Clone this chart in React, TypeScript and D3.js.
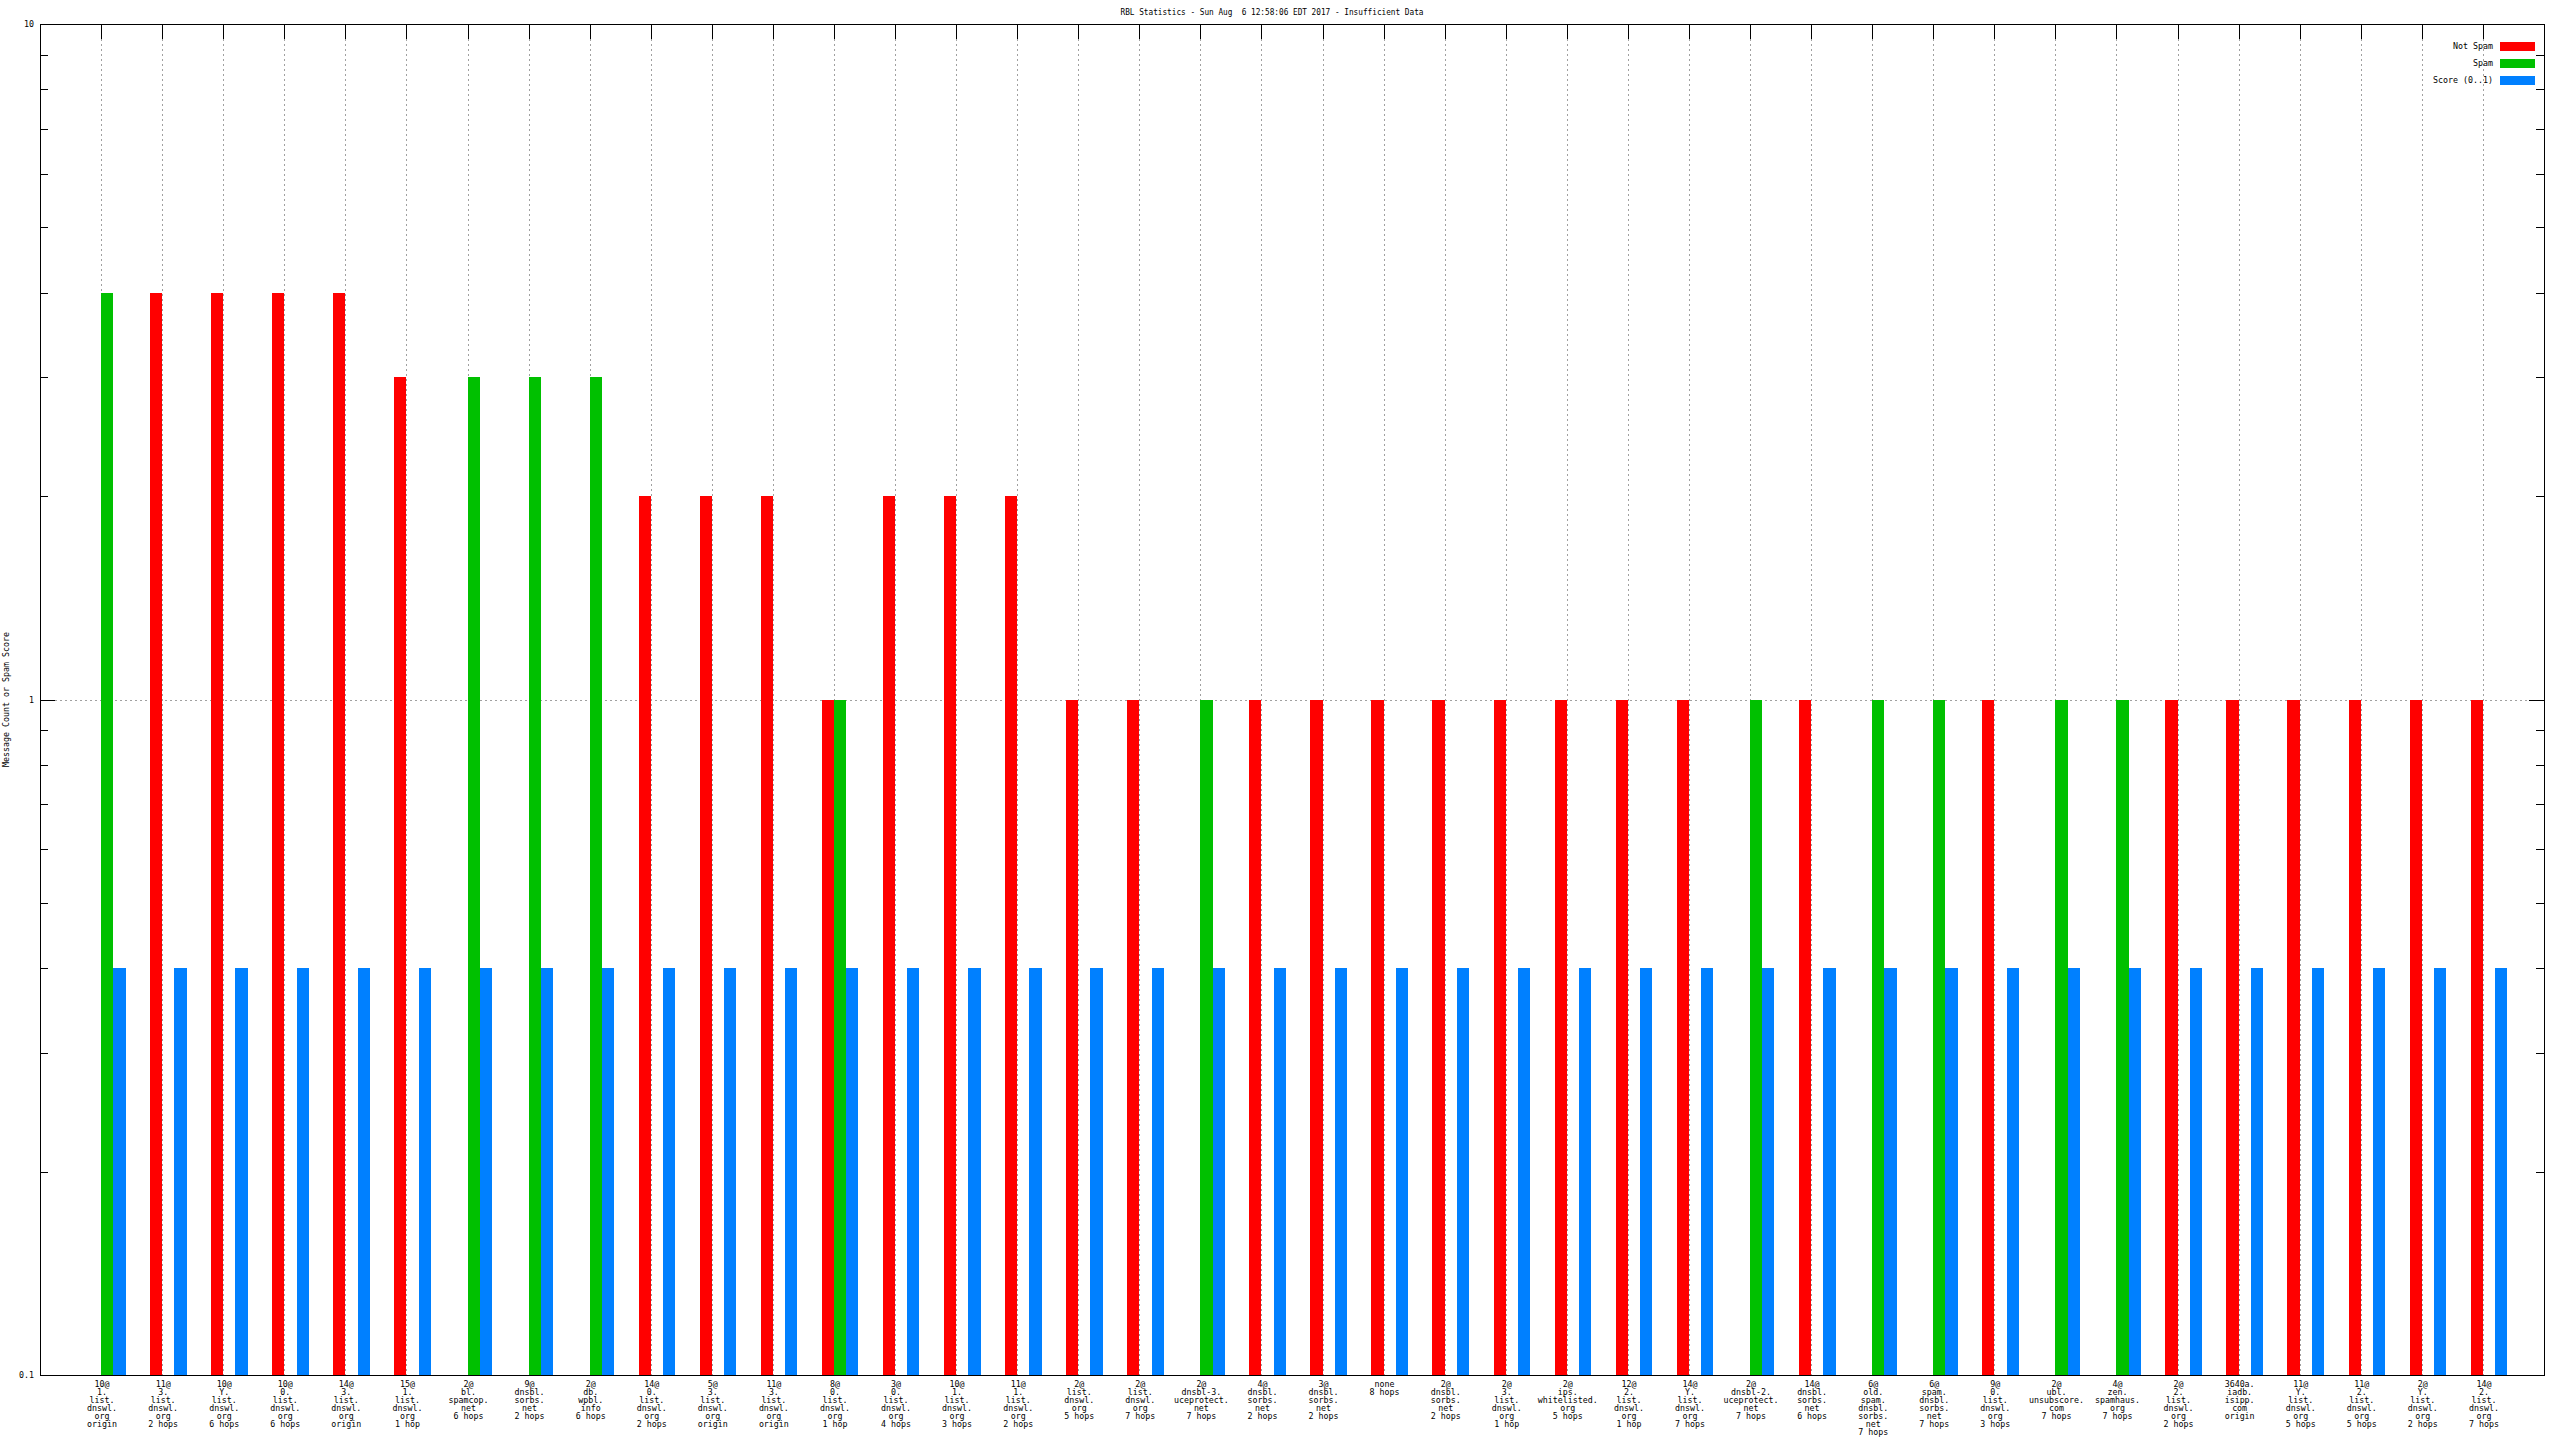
import React from "react";
import * as d3 from "d3";

const TITLE = "RBL Statistics - Sun Aug  6 12:58:06 EDT 2017 - Insufficient Data";
const Y_TITLE = "Message Count or Spam Score";

const categories: string[] = [
  "10@\n1.\nlist.\ndnswl.\norg\norigin",
  "11@\n3.\nlist.\ndnswl.\norg\n2 hops",
  "10@\nY.\nlist.\ndnswl.\norg\n6 hops",
  "10@\n0.\nlist.\ndnswl.\norg\n6 hops",
  "14@\n3.\nlist.\ndnswl.\norg\norigin",
  "15@\n1.\nlist.\ndnswl.\norg\n1 hop",
  "2@\nbl.\nspamcop.\nnet\n6 hops",
  "9@\ndnsbl.\nsorbs.\nnet\n2 hops",
  "2@\ndb.\nwpbl.\ninfo\n6 hops",
  "14@\n0.\nlist.\ndnswl.\norg\n2 hops",
  "5@\n3.\nlist.\ndnswl.\norg\norigin",
  "11@\n3.\nlist.\ndnswl.\norg\norigin",
  "8@\n0.\nlist.\ndnswl.\norg\n1 hop",
  "3@\n0.\nlist.\ndnswl.\norg\n4 hops",
  "10@\n1.\nlist.\ndnswl.\norg\n3 hops",
  "11@\n1.\nlist.\ndnswl.\norg\n2 hops",
  "2@\nlist.\ndnswl.\norg\n5 hops",
  "2@\nlist.\ndnswl.\norg\n7 hops",
  "2@\ndnsbl-3.\nuceprotect.\nnet\n7 hops",
  "4@\ndnsbl.\nsorbs.\nnet\n2 hops",
  "3@\ndnsbl.\nsorbs.\nnet\n2 hops",
  "none\n8 hops",
  "2@\ndnsbl.\nsorbs.\nnet\n2 hops",
  "2@\n3.\nlist.\ndnswl.\norg\n1 hop",
  "2@\nips.\nwhitelisted.\norg\n5 hops",
  "12@\n2.\nlist.\ndnswl.\norg\n1 hop",
  "14@\nY.\nlist.\ndnswl.\norg\n7 hops",
  "2@\ndnsbl-2.\nuceprotect.\nnet\n7 hops",
  "14@\ndnsbl.\nsorbs.\nnet\n6 hops",
  "6@\nold.\nspam.\ndnsbl.\nsorbs.\nnet\n7 hops",
  "6@\nspam.\ndnsbl.\nsorbs.\nnet\n7 hops",
  "9@\n0.\nlist.\ndnswl.\norg\n3 hops",
  "2@\nubl.\nunsubscore.\ncom\n7 hops",
  "4@\nzen.\nspamhaus.\norg\n7 hops",
  "2@\n2.\nlist.\ndnswl.\norg\n2 hops",
  "3640a.\niadb.\nisipp.\ncom\norigin",
  "11@\nY.\nlist.\ndnswl.\norg\n5 hops",
  "11@\n2.\nlist.\ndnswl.\norg\n5 hops",
  "2@\nY.\nlist.\ndnswl.\norg\n2 hops",
  "14@\n2.\nlist.\ndnswl.\norg\n7 hops",
];

const notSpam: number[] = [
  0, 4, 4, 4, 4, 3, 0, 0, 0, 2, 2, 2, 1, 2, 2, 2, 1, 1, 0, 1,
  1, 1, 1, 1, 1, 1, 1, 0, 1, 0, 0, 1, 0, 0, 1, 1, 1, 1, 1, 1,
];
const spam: number[] = [
  4, 0, 0, 0, 0, 0, 3, 3, 3, 0, 0, 0, 1, 0, 0, 0, 0, 0, 1, 0,
  0, 0, 0, 0, 0, 0, 0, 1, 0, 1, 1, 0, 1, 1, 0, 0, 0, 0, 0, 0,
];
const score: number[] = [
  0.4, 0.4, 0.4, 0.4, 0.4, 0.4, 0.4, 0.4, 0.4, 0.4, 0.4, 0.4, 0.4, 0.4, 0.4, 0.4, 0.4, 0.4, 0.4, 0.4,
  0.4, 0.4, 0.4, 0.4, 0.4, 0.4, 0.4, 0.4, 0.4, 0.4, 0.4, 0.4, 0.4, 0.4, 0.4, 0.4, 0.4, 0.4, 0.4, 0.4,
];

const seriesNames: string[] = ["Not Spam", "Spam", "Score (0..1)"];
const seriesColors: string[] = ["#ff0000", "#00c000", "#0080ff"];
const yTickValues: number[] = [0.1, 1, 10];
const yTickLabels: string[] = ["0.1", "1", "10"];

const FONT = "DejaVu Sans Mono, monospace";
const FS = 8.3;

export default function App() {
  const W = 2560;
  const H = 1440;
  const L = 40, R = 2544, T = 24, B = 1375;
  const n = categories.length;
  const x = d3.scaleLinear().domain([-1, n]).range([L, R]);
  const y = d3.scaleLog().domain([0.1, 10]).range([B, T]);
  const bw = 0.2;
  const series = [notSpam, spam, score];
  const offsets = [-0.2, 0, 0.2];

  const minor: number[] = [];
  [0.1, 1].forEach((d) => {
    for (let k = 2; k <= 9; k++) minor.push(d * k);
  });

  return (
    <svg
      width={W}
      height={H}
      style={{ position: "absolute", left: 0, top: 0, display: "block", background: "#fff" }}
      shapeRendering="crispEdges"
    >
      <rect x={0} y={0} width={W} height={H} fill="#fff" />
      {/* grid */}
      <g stroke="#a0a0a0" strokeWidth={1} strokeDasharray="2,3">
        {categories.map((_, i) => (
          <line key={"gx" + i} x1={Math.round(x(i)) + 0.5} x2={Math.round(x(i)) + 0.5} y1={T + 15} y2={B} />
        ))}
        <line x1={L + 15} x2={R} y1={Math.round(y(1)) + 0.5} y2={Math.round(y(1)) + 0.5} />
      </g>
      {/* ticks */}
      <g stroke="#000" strokeWidth={1}>
        {categories.map((_, i) => {
          const xx = Math.round(x(i)) + 0.5;
          return <line key={"xt" + i} x1={xx} x2={xx} y1={T} y2={T + 15} />;
        })}
        {yTickValues.map((v, i) => {
          const yy = Math.round(y(v)) + 0.5;
          return (
            <g key={"yt" + i}>
              <line x1={L} x2={L + 15} y1={yy} y2={yy} />
              <line x1={R} x2={R - 15} y1={yy} y2={yy} />
            </g>
          );
        })}
        {minor.map((v, i) => {
          const yy = Math.round(y(v)) + 0.5;
          return (
            <g key={"ym" + i}>
              <line x1={L} x2={L + 8} y1={yy} y2={yy} />
              <line x1={R} x2={R - 8} y1={yy} y2={yy} />
            </g>
          );
        })}
      </g>
      {/* bars */}
      {series.map((vals, s) => (
        <g key={"s" + s} fill={seriesColors[s]}>
          {vals.map((v, i) => {
            if (!(v > 0)) return null;
            const x0 = Math.round(x(i + offsets[s]));
            const x1 = Math.round(x(i + offsets[s] + bw));
            return (
              <rect key={i} x={x0} width={x1 - x0} y={y(v)} height={y(0.1) - y(v)} />
            );
          })}
        </g>
      ))}
      {/* frame */}
      <rect x={L + 0.5} y={T + 0.5} width={R - L} height={B - T} fill="none" stroke="#000" strokeWidth={1} />
      {/* y tick labels */}
      <g fontFamily={FONT} fontSize={FS} fill="#000" textAnchor="end">
        {yTickValues.map((v, i) => (
          <text key={i} x={34} y={y(v) + 3}>
            {yTickLabels[i]}
          </text>
        ))}
      </g>
      {/* x labels */}
      <g fontFamily={FONT} fontSize={FS} fill="#000" textAnchor="middle">
        {categories.map((c, i) => (
          <text key={i} x={x(i) + 1} y={1387}>
            {c.split("\n").map((line, j) => (
              <tspan key={j} x={x(i) + 1} y={1387 + j * 8} xmlSpace="preserve">
                {line}
              </tspan>
            ))}
          </text>
        ))}
      </g>
      {/* title */}
      <text
        x={1272}
        y={15}
        fontFamily={FONT}
        fontSize={FS}
        textAnchor="middle"
        style={{ whiteSpace: "pre" }}
        textLength={303}
        lengthAdjust="spacingAndGlyphs"
      >
        {TITLE}
      </text>
      {/* y title */}
      <text
        transform={`translate(9,${(T + B) / 2}) rotate(-90)`}
        fontFamily={FONT}
        fontSize={FS}
        textAnchor="middle"
      >
        {Y_TITLE}
      </text>
      {/* legend */}
      <g fontFamily={FONT} fontSize={FS}>
        {seriesNames.map((name, i) => (
          <g key={i}>
            <text x={2493} y={49 + i * 17} textAnchor="end" style={{ whiteSpace: "pre" }}>
              {name}
            </text>
            <rect x={2500} y={42 + i * 17} width={35} height={9} fill={seriesColors[i]} />
          </g>
        ))}
      </g>
    </svg>
  );
}
